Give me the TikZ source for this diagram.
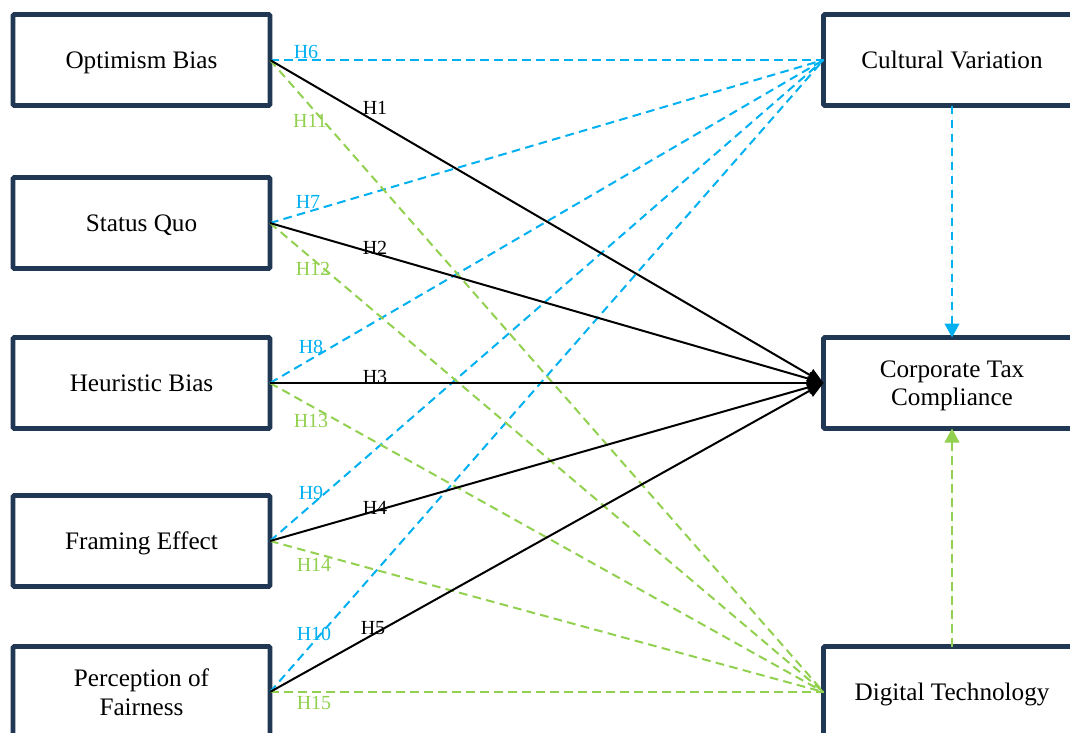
\documentclass[tikz,border=0pt]{standalone}
\usepackage{fontspec}
\setmainfont{Liberation Serif}
\usetikzlibrary{arrows.meta}
\definecolor{navy}{RGB}{32,56,84}
\definecolor{hblue}{RGB}{0,176,240}
\definecolor{hgreen}{RGB}{146,208,80}
\begin{document}
\begin{tikzpicture}[x=0.75pt,y=-0.75pt,
  box/.style={draw=navy, line width=3.6pt, rounded corners=1pt, outer sep=0pt,
    minimum width=192.75pt, minimum height=68.25pt, align=center,
    font=\fontsize{18.9}{21.5}\selectfont, inner sep=2pt, text depth=0pt},
  lab/.style={font=\fontsize{15}{17}\selectfont, inner sep=0pt},
  hyp/.style={black, line width=1.5pt, -{Triangle[length=12pt,width=10pt]}},
  mblue/.style={draw=hblue, line width=1.5pt, dash pattern=on 6.5pt off 4pt},
  mgreen/.style={draw=hgreen, line width=1.5pt, dash pattern=on 6.5pt off 4pt},
  vtip/.style={-{Triangle[length=10.5pt,width=11pt]}}
]
\useasboundingbox (0,0) rectangle (1070,732);
\clip (0,0) rectangle (1070,732);

% left boxes
\node[box] (ob) at (141.5,60) {Optimism Bias};
\node[box] (sq) at (141.5,223) {Status Quo};
\node[box] (hb) at (141.5,383) {Heuristic Bias};
\node[box] (fe) at (141.5,541) {Framing Effect};
\node[box] (pf) at (141.5,692) {Perception of\\Fairness};

% right boxes
\node[box] (cv) at (952,60) {Cultural Variation};
\node[box] (ct) at (952,383) {Corporate Tax\\Compliance};
\node[box] (dt) at (952,692) {Digital Technology};

% moderation paths (blue)
\foreach \s in {ob,sq,hb,fe,pf} \draw[mblue] (\s.east) -- (cv.west);
% moderation paths (green)
\foreach \s in {ob,sq,hb,fe,pf} \draw[mgreen] (\s.east) -- (dt.west);
% direct paths
\foreach \s in {ob,sq,hb,fe,pf} \draw[hyp] (\s.east) -- (ct.west);

% vertical arrows
\draw[mblue, vtip, fill=hblue] (cv.south) -- (ct.north);
\draw[mgreen, vtip, fill=hgreen] (dt.north) -- (ct.south);

% labels
\node[lab, text=hblue] (l6) at (306,52) {H6};
\node[lab] (l1) at (375,108) {H1};
\node[lab, text=hgreen] (l11) at (310,121) {H11};
\node[lab, text=hblue] (l7) at (308,202) {H7};
\node[lab] (l2) at (375,248) {H2};
\node[lab, text=hgreen] (l12) at (313,269) {H12};
\node[lab, text=hblue] (l8) at (311,347) {H8};
\node[lab] (l3) at (375,377) {H3};
\node[lab, text=hgreen] (l13) at (311,421) {H13};
\node[lab, text=hblue] (l9) at (311,493) {H9};
\node[lab] (l4) at (375,508) {H4};
\node[lab, text=hgreen] (l14) at (314,565) {H14};
\node[lab, text=hblue] (l10) at (314,634) {H10};
\node[lab] (l5) at (373,628) {H5};
\node[lab, text=hgreen] (l15) at (314,703) {H15};
\end{tikzpicture}
\end{document}
